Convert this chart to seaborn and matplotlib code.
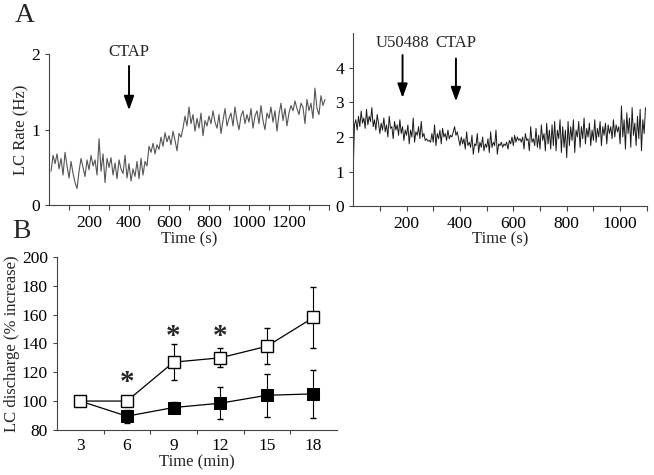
import numpy as np
import pandas as pd
import seaborn as sns
import matplotlib.pyplot as plt

# --- Data ---
# Panel A, left trace: LC rate (Hz), one value every 10 s starting at 10 s
TRACE1_STEP = 10
trace1_rate = [
    0.45, 0.66, 0.55, 0.68, 0.48, 0.62, 0.40, 0.70, 0.52, 0.36,
    0.58, 0.42, 0.30, 0.22, 0.45, 0.62, 0.50, 0.38, 0.60, 0.47,
    0.66, 0.52, 0.60, 0.40, 0.88, 0.45, 0.68, 0.30, 0.62, 0.50,
    0.63, 0.40, 0.56, 0.35, 0.60, 0.48, 0.42, 0.66, 0.36, 0.55,
    0.32, 0.48, 0.38, 0.58, 0.35, 0.62, 0.40, 0.58, 0.52, 0.78,
    0.70, 0.82, 0.68, 0.80, 0.74, 0.90, 0.78, 0.96, 0.84, 0.92,
    0.80, 0.98, 0.86, 0.72, 0.95, 0.90, 1.02, 1.18, 1.05, 1.30,
    1.08, 1.20, 0.98, 1.15, 1.02, 1.22, 0.92, 1.12, 1.05, 1.18,
    1.08, 1.25, 1.10, 1.02, 1.20, 0.95, 1.12, 1.28, 1.05, 1.15,
    1.22, 1.05, 1.30, 1.12, 1.00, 1.18, 1.25, 1.08, 1.20, 1.10,
    1.28, 1.02, 1.18, 1.25, 1.08, 1.32, 1.12, 1.00, 1.22, 1.15,
    1.30, 1.10, 1.25, 0.98, 1.20, 1.35, 1.12, 1.28, 1.05, 1.22,
    1.32, 1.25, 1.38, 1.28, 1.20, 1.35, 1.30, 1.08, 1.40, 1.25,
    1.35, 1.15, 1.55, 1.28, 1.20, 1.45, 1.32, 1.40,
]

# Panel A, right trace: LC rate (Hz), one value every 5 s starting at 0 s
TRACE2_STEP = 5
trace2_rate = [
    1.00, 2.35, 2.50, 2.20, 2.60, 2.30, 2.75, 2.40, 2.55, 2.25, 2.80, 2.35, 2.60, 2.45, 2.85, 2.30, 2.50, 2.20, 2.65, 2.40,
    2.10, 2.40, 2.20, 2.55, 2.15, 2.35, 2.00, 2.60, 2.25, 2.30, 1.95, 2.45, 2.20, 2.35, 2.05, 2.50, 2.10, 2.30, 1.90, 2.20,
    2.05, 2.35, 1.80, 2.20, 2.00, 2.55, 1.85, 2.15, 2.05, 2.30, 1.95, 2.45, 2.00, 2.10, 1.90, 1.95, 1.88, 1.90, 1.85, 2.10,
    1.85, 2.35, 1.75, 2.10, 1.95, 2.20, 1.80, 2.25, 2.00, 2.10, 1.90, 2.20, 1.95, 2.05, 2.00, 2.15, 2.30, 2.05, 2.15, 1.95,
    1.75, 2.00, 1.80, 1.95, 1.65, 2.15, 1.75, 1.85, 1.70, 2.05, 1.50, 1.80, 1.75, 2.10, 1.55, 1.85, 1.70, 2.00, 1.60, 1.80,
    1.70, 1.95, 1.55, 2.15, 1.70, 1.85, 1.75, 2.20, 1.50, 1.80, 1.75, 1.85, 1.70, 1.80, 1.75, 1.85, 1.65, 1.90, 1.80, 2.00,
    1.75, 2.05, 1.85, 2.00, 1.90, 1.95, 1.85, 2.00, 1.65, 2.10, 1.90, 1.95, 1.60, 2.30, 1.85, 1.95, 1.75, 2.25, 1.70, 2.05,
    1.65, 2.35, 1.90, 2.10, 1.60, 2.40, 1.80, 2.20, 1.65, 2.35, 1.75, 2.45, 1.60, 2.20, 1.95, 2.50, 1.55, 2.30, 1.70, 2.20,
    1.40, 2.45, 1.75, 2.30, 1.90, 2.50, 1.55, 2.20, 2.00, 2.45, 1.70, 2.30, 1.95, 2.55, 1.80, 2.25, 2.00, 2.40, 1.75, 2.20,
    1.90, 2.50, 1.85, 2.25, 2.00, 2.45, 1.75, 2.30, 2.05, 2.40, 1.80, 2.35, 2.10, 2.30, 1.95, 2.50, 2.00, 2.35, 2.15, 2.30,
    1.80, 2.90, 2.00, 2.50, 1.65, 2.70, 2.10, 2.55, 1.70, 2.85, 2.05, 2.40, 1.75, 2.60, 1.95, 2.80, 1.60, 2.50, 2.10, 2.85,
]

# Panel B: % increase of LC discharge over time
time_min = [3, 6, 9, 12, 15, 18]
open_mean = [100, 100, 127, 130, 138, 158]
open_err = [0, 0, 12.5, 6.5, 12.5, 21.5]
filled_mean = [100, 89.5, 95.5, 98.5, 104, 105]
filled_err = [0, 4.5, 4, 11, 15, 16.5]
star_times = [6, 9, 12]
star_levels = [113, 145, 145]

# --- Style ---
sns.set_style("ticks")
plt.rcParams['font.family'] = ['Liberation Serif', 'DejaVu Serif']
plt.rcParams['font.size'] = 12
plt.rcParams['xtick.labelsize'] = 12.5
plt.rcParams['ytick.labelsize'] = 12.5
plt.rcParams['axes.labelsize'] = 12
plt.rcParams['axes.edgecolor'] = '#444444'
plt.rcParams['xtick.color'] = '#444444'
plt.rcParams['ytick.color'] = '#444444'
plt.rcParams['xtick.labelcolor'] = 'black'
plt.rcParams['ytick.labelcolor'] = 'black'

fig = plt.figure(figsize=(6.54, 4.75), dpi=100)

ax1 = fig.add_axes([0.075, 0.568, 0.428, 0.318])
ax2 = fig.add_axes([0.540, 0.566, 0.449, 0.364])
ax3 = fig.add_axes([0.087, 0.095, 0.428, 0.364])

arrow_kw = dict(arrowstyle='-|>,head_length=0.7,head_width=0.25', color='black', lw=1.4)

# ----- Panel A left -----
df1 = pd.DataFrame({'t': TRACE1_STEP * np.arange(1, len(trace1_rate) + 1), 'rate': trace1_rate})
sns.lineplot(data=df1, x='t', y='rate', ax=ax1, color='#555555', lw=0.8)
ax1.set_xlim(0, 1400)
ax1.set_ylim(0, 2)
ax1.set_xticks(range(100, 1401, 100))
ax1.set_xticklabels([str(v) if v % 200 == 0 and v <= 1200 else '' for v in range(100, 1401, 100)])
ax1.set_yticks([0, 1, 2])
ax1.set_xlabel('Time (s)', labelpad=0)
ax1.set_ylabel('LC Rate (Hz)', labelpad=1)
ax1.annotate('', xy=(400, 1.22), xytext=(400, 1.88), arrowprops=arrow_kw)
ax1.text(400, 1.92, 'CTAP', ha='center', va='bottom')

# ----- Panel A right -----
df2 = pd.DataFrame({'t': TRACE2_STEP * np.arange(len(trace2_rate)), 'rate': trace2_rate})
sns.lineplot(data=df2, x='t', y='rate', ax=ax2, color='#1a1a1a', lw=0.7)
ax2.set_xlim(0, 1100)
ax2.set_ylim(0, 5)
ax2.set_xticks(range(100, 1101, 100))
ax2.set_xticklabels([str(v) if v % 200 == 0 else '' for v in range(100, 1101, 100)])
ax2.set_yticks([0, 1, 2, 3, 4])
ax2.set_xlabel('Time (s)', labelpad=0)
ax2.set_ylabel('')
ax2.annotate('', xy=(185, 3.05), xytext=(185, 4.45), arrowprops=arrow_kw)
ax2.text(185, 4.48, 'U50488', ha='center', va='bottom')
ax2.annotate('', xy=(385, 2.95), xytext=(385, 4.35), arrowprops=arrow_kw)
ax2.text(385, 4.48, 'CTAP', ha='center', va='bottom')

# ----- Panel B -----
dfb = pd.DataFrame({
    'time': time_min * 2,
    'value': open_mean + filled_mean,
    'group': ['open'] * len(time_min) + ['filled'] * len(time_min),
})
ax3.errorbar(time_min, open_mean, yerr=open_err, fmt='none', ecolor='black',
             elinewidth=0.8, capsize=2, zorder=1)
ax3.errorbar(time_min, filled_mean, yerr=filled_err, fmt='none', ecolor='black',
             elinewidth=0.8, capsize=2, zorder=1)
sns.lineplot(data=dfb[dfb.group == 'filled'], x='time', y='value', ax=ax3,
             color='black', lw=0.9, marker='s', markersize=8,
             markerfacecolor='black', markeredgecolor='black', zorder=3)
sns.lineplot(data=dfb[dfb.group == 'open'], x='time', y='value', ax=ax3,
             color='black', lw=0.9, marker='s', markersize=8,
             markerfacecolor='white', markeredgecolor='black', markeredgewidth=1, zorder=4)
for tx, ty in zip(star_times, star_levels):
    ax3.text(tx, ty, '*', ha='center', va='center', fontsize=21, fontweight='bold')
ax3.set_xlim(1.5, 19.5)
ax3.set_ylim(80, 200)
ax3.set_xticks(time_min)
ax3.tick_params(axis='x', which='major', length=0, pad=6)
ax3.set_xticks([4.5, 7.5, 10.5, 13.5, 16.5], minor=True)
ax3.tick_params(axis='x', which='minor', length=3)
ax3.set_yticks(range(80, 201, 20))
ax3.set_xlabel('Time (min)', labelpad=0)
ax3.set_ylabel('LC discharge (% increase)', labelpad=1)

for ax in (ax1, ax2, ax3):
    sns.despine(ax=ax)
    ax.tick_params(axis='both', which='both', width=0.8)
    ax.tick_params(axis='y', length=3)

fig.text(0.023, 0.968, 'A', fontsize=20, ha='left', va='center')
fig.text(0.018, 0.513, 'B', fontsize=20, ha='left', va='center')

fig.savefig('out.png', dpi=100)
